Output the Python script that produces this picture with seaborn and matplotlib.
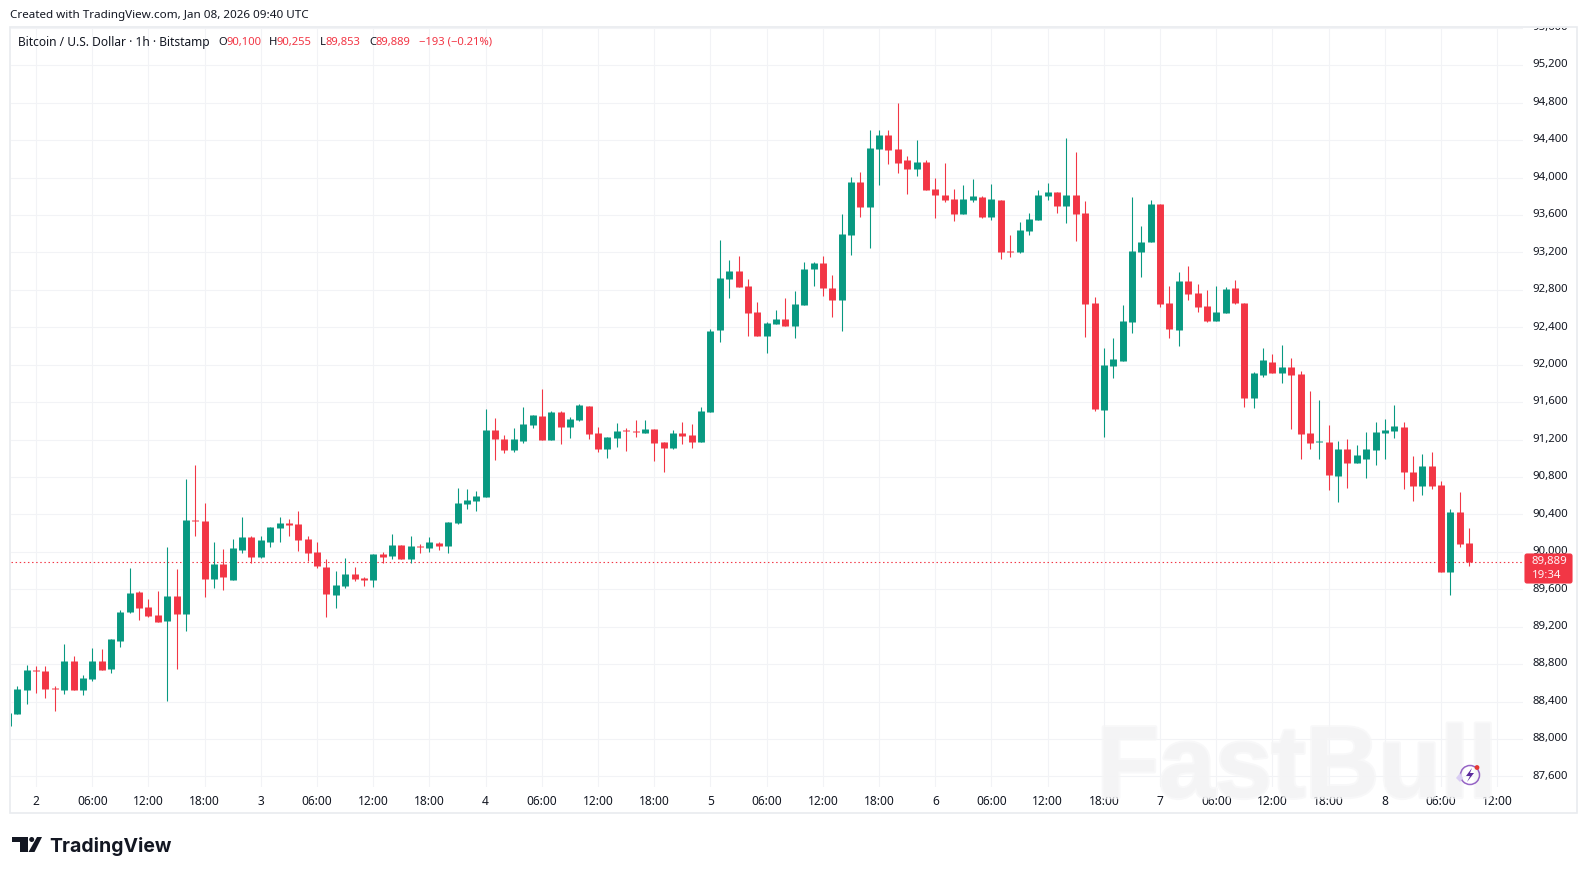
import numpy as np
import pandas as pd
import matplotlib
matplotlib.use("Agg")
import matplotlib.pyplot as plt
import matplotlib.patheffects as pe
import seaborn as sns
from matplotlib.patches import Rectangle, Polygon, Circle, FancyBboxPatch
from matplotlib.transforms import Affine2D, Bbox

# ---------- data: 1h candles, hour 0 = Jan 2 00:00 UTC ----------
first_hour = -3
opens = [88140,88268,88524,88738,88728,88549,88524,88834,88524,88642,88834,88749,89048,89358,89572,89411,89326,89262,89529,89337,
90341,90330,89711,89871,89700,90021,90159,89946,90106,90256,90309,90298,90138,89999,89839,89540,89636,89764,89721,89700,
89978,89956,90074,89924,90067,90042,90095,90063,90309,90512,90544,90587,91303,91207,91089,91185,91356,91453,91196,91495,
91335,91410,91559,91271,91100,91217,91303,91292,91271,91314,91175,91111,91271,91250,91175,91495,92371,92916,93002,92842,
92564,92307,92435,92489,92414,92639,93023,93087,92820,92692,93387,93953,93686,94306,94455,94306,94188,94092,94167,93878,
93814,93771,93610,93760,93792,93578,93760,93215,93204,93429,93546,93803,93845,93696,93813,93621,92659,91516,91986,92040,
92456,93204,93311,93717,92659,92371,92894,92766,92627,92467,92553,92820,92659,91644,91890,92029,91911,91975,91901,91270,
91174,91174,90811,91099,90950,90992,91089,91270,91292,91334,90853,90704,90918,90715,89785,90426,90100]
highs = [88275,88567,88792,88781,88781,88567,89016,88888,88685,88973,88963,89069,89379,89828,89582,89497,89582,90053,89818,90779,
90929,90523,90106,90031,90138,90373,90170,90170,90266,90373,90352,90437,90170,90106,89924,89796,89935,89839,89732,89978,
89999,90192,90074,90170,90085,90159,90106,90320,90683,90672,90651,91527,91431,91250,91324,91549,91463,91741,91506,91506,
91442,91581,91559,91335,91228,91378,91324,91410,91410,91314,91175,91303,91388,91367,91549,92382,93333,93119,93162,92916,
92671,92457,92585,92713,92788,93098,93098,93162,92959,93611,94006,94060,94509,94509,94509,94797,94231,94402,94188,93996,
94156,93878,93920,93984,93803,93931,93760,93386,93525,93621,93867,93942,93845,94423,94273,93749,92723,92178,92285,92638,
93792,93482,93760,93717,92841,92991,93055,92862,92798,92841,92830,92905,92659,91922,92178,92114,92211,92072,91933,91719,
91623,91356,91185,91206,91142,91281,91388,91420,91569,91388,91024,91046,91067,90757,90458,90640,90255]
lows = [88140,88268,88375,88492,88439,88300,88482,88524,88471,88621,88738,88706,88984,89347,89273,89305,89251,88407,88749,89155,
90170,89518,89614,89593,89700,89988,89882,89935,90053,90106,90170,90010,89903,89828,89305,89401,89614,89689,89636,89625,
89882,89924,89924,89882,89988,89999,90021,89988,90298,90459,90437,90587,90982,91057,91068,91164,91324,91196,91196,91153,
91217,91399,91207,91068,91004,91121,91079,91228,91271,90972,90854,91100,91153,91111,91175,91495,92243,92713,92831,92307,
92307,92126,92435,92414,92286,92639,92842,92735,92510,92361,93173,93579,93248,93921,94145,94049,93825,94017,93867,93568,
93739,93536,93610,93739,93568,93546,93130,93151,93194,93386,93546,93760,93621,93514,93322,92296,91505,91227,91858,92040,
92339,92937,93311,92617,92285,92200,92691,92563,92456,92467,92553,92649,91548,91537,91869,91911,91804,91313,90992,91099,
90992,90661,90533,90682,90950,90789,90928,90992,91217,90672,90544,90608,90672,89785,89539,90052,89853]
closes = [88275,88535,88738,88728,88535,88535,88834,88524,88653,88834,88738,89069,89358,89561,89401,89315,89251,89529,89337,90341,
90330,89711,89871,89732,90042,90159,89946,90127,90266,90309,90288,90127,89988,89850,89550,89647,89764,89711,89700,89978,
89946,90074,89924,90063,90056,90106,90063,90320,90523,90555,90598,91303,91207,91089,91207,91367,91463,91196,91495,91335,
91420,91570,91260,91100,91228,91292,91292,91282,91314,91164,91111,91271,91239,91175,91506,92361,92927,93002,92831,92553,
92307,92446,92489,92414,92649,93023,93087,92820,92692,93397,93953,93686,94316,94455,94295,94156,94092,94167,93867,93814,
93761,93611,93771,93803,93578,93771,93204,93204,93439,93557,93813,93845,93696,93813,93610,92649,91527,91997,92061,92467,
93215,93311,93717,92649,92381,92894,92756,92617,92467,92563,92809,92659,91644,91911,92050,91911,91975,91890,91260,91163,
91185,90821,91099,90950,91035,91099,91281,91302,91345,90853,90704,90918,90704,89785,90426,90084,89889]

price_ticks = list(range(87600, 95601, 400))
tick_hours = list(range(0, 157, 6))
day_labels = {0: "2", 24: "3", 48: "4", 72: "5", 96: "6", 120: "7", 144: "8"}
last_price = closes[-1]

UP, DOWN = "#089981", "#f23645"
GRID = "#f2f3f6"
FRAME = "#e9ebef"
TEXT = "#131722"
FONT = "Noto Sans"
W, H = 1587, 875

sns.set_theme(style="white")
plt.rcParams["font.family"] = [FONT, "DejaVu Sans"]

hours = np.arange(first_hour, first_hour + len(opens))
df = pd.DataFrame({"hour": hours, "open": opens, "high": highs, "low": lows, "close": closes})
df["dir"] = np.where(df["close"] >= df["open"], "up", "down")
df["top"] = df[["open", "close"]].max(axis=1)
df["bottom"] = df[["open", "close"]].min(axis=1)
wicks = df.melt(id_vars=["hour", "dir"], value_vars=["high", "low"], value_name="price")
bodies = df.melt(id_vars=["hour", "dir"], value_vars=["top", "bottom"], value_name="price")

fig = plt.figure(figsize=(W / 100, H / 100), dpi=100, facecolor="white")
# pixel-space transform (origin top-left) for chrome outside the scales
px = Affine2D().scale(1, -1).translate(0, H)

L, R, T, B = 10.5, 1523, 27.5, 787
ax = fig.add_axes([L / W, 1 - B / H, (R - L) / W, (B - T) / H])
ax.set_facecolor("white")
palette = {"up": UP, "down": DOWN}
sns.lineplot(data=wicks, x="hour", y="price", hue="dir", units="hour", estimator=None,
             palette=palette, legend=False, linewidth=0.78, solid_capstyle="butt", ax=ax, zorder=3)
sns.lineplot(data=bodies, x="hour", y="price", hue="dir", units="hour", estimator=None,
             palette=palette, legend=False, linewidth=5.0, solid_capstyle="butt", ax=ax, zorder=4)

per_hour = 9.367
x_zero = 36.05
ax.set_xlim((L - x_zero) / per_hour, (R - x_zero) / per_hour)
per_usd = 0.09358
ax.set_ylim(90000 - (B - 551.9) / per_usd, 90000 + (551.9 - T) / per_usd)
ax.set_xlabel("")
ax.set_ylabel("")
for s in ax.spines.values():
    s.set_visible(False)

ax.set_xticks(tick_hours)
ax.set_xticklabels([day_labels.get(h, f"{h % 24:02d}:00") for h in tick_hours])
ax.yaxis.tick_right()
ax.set_yticks(price_ticks)
ax.set_yticklabels([f"{p:,}" for p in price_ticks])
ax.grid(True, color=GRID, linewidth=0.8, zorder=0)
ax.set_axisbelow(True)
ax.tick_params(axis="x", length=0, pad=5.5, labelsize=8.6, labelcolor=TEXT)
ax.tick_params(axis="y", length=0, pad=6.5, labelsize=8.2, labelcolor=TEXT)
for lab, h in zip(ax.get_xticklabels(), tick_hours):
    if h == 72:
        lab.set_fontweight("bold")
# the price labels sit slightly above their gridlines; the topmost is cut off by the frame
clip = Bbox([[0, 0], [W, H - T]])
for lab in ax.get_yticklabels():
    lab.set_transform(lab.get_transform() + Affine2D().translate(0, 1.8))
    lab.set_clip_box(clip)
    lab.set_clip_on(True)

# last price line
ax.axhline(last_price, color=DOWN, linewidth=0.8, linestyle=(0, (1.3, 2.4)), zorder=2)

# watermark
fig.text(1097, 797, "FastBull", transform=px, fontsize=73, fontweight="bold", family="Liberation Sans",
         color="#f4f4f5", alpha=0.75, ha="left", va="baseline", zorder=5,
         path_effects=[pe.withStroke(linewidth=3, foreground="#f6f6f7")])

# frame
fig.add_artist(Rectangle((10, 27), 1567, 786, transform=px, fill=False, edgecolor=FRAME, linewidth=1.2))

# price tag
fig.add_artist(FancyBboxPatch((1525, 554), 47, 29, boxstyle="round,pad=0,rounding_size=2", transform=px,
                              facecolor=DOWN, edgecolor=DOWN, linewidth=0.8, zorder=6))
fig.text(1532, 561.5, f"{last_price:,}", transform=px, color="#fff3f4", fontsize=8.2, va="center", ha="left", zorder=7)
fig.text(1532, 576, "19:34", transform=px, color="#fff3f4", fontsize=8.2, va="center", ha="left", zorder=7)

# header
fig.text(10, 15.3, "Created with TradingView.com, Jan 08, 2026 09:40 UTC", transform=px, color=TEXT,
         fontsize=8.4, va="center", ha="left")
fig.text(18, 42.3, "Bitcoin / U.S. Dollar · 1h · Bitstamp", transform=px, color=TEXT, fontsize=8.6,
         va="center", ha="left")
for x, s, c in [(218, "O", TEXT), (226.7, f"{opens[-1]:,}", DOWN), (269, "H", TEXT), (276.7, f"{highs[-1]:,}", DOWN),
                (320, "L", TEXT), (326, f"{lows[-1]:,}", DOWN), (369.3, "C", TEXT), (376, f"{closes[-1]:,}", DOWN),
                (419, "−193 (−0.21%)", DOWN)]:
    fig.text(x, 42.3, s, transform=px, color=c, fontsize=8.1, va="center", ha="left")

# TradingView logo
INK = "#131722"
fig.add_artist(Polygon([(12, 837), (27.5, 837), (27.5, 852), (20, 852), (20, 842), (12, 842)], closed=True,
                       transform=px, facecolor=INK, edgecolor="none"))
fig.add_artist(Circle((31.7, 839.5), 2.5, transform=px, facecolor=INK, edgecolor="none"))
fig.add_artist(Polygon([(37, 837), (42, 837), (34.5, 852), (28.5, 852)], closed=True, transform=px,
                       facecolor=INK, edgecolor="none"))
fig.text(49, 846.5, "TradingView", transform=px, color=INK, fontsize=14.0, fontweight="bold", family="Inter",
         va="center", ha="left")

# small bolt badge
PURPLE = "#7d3fb8"
fig.add_artist(Circle((1470, 775), 9.5, transform=px, fill=False, edgecolor=PURPLE, linewidth=1.1, alpha=0.8, zorder=6))
fig.add_artist(Polygon([(1472, 768), (1466, 776), (1470, 776), (1467, 782), (1474, 773), (1470, 773)], closed=True,
                       transform=px, facecolor="#5b2a9c", edgecolor="none", zorder=7))
fig.add_artist(Circle((1477, 767.5), 2.4, transform=px, facecolor="#e53935", edgecolor="none", zorder=8))
fig.add_artist(Polygon([(1460, 773), (1463, 778), (1460, 782), (1456, 778)], closed=True, transform=px,
                       facecolor="#d9cdf3", edgecolor="none", zorder=6))

fig.savefig("out.png", dpi=100, facecolor="white")
